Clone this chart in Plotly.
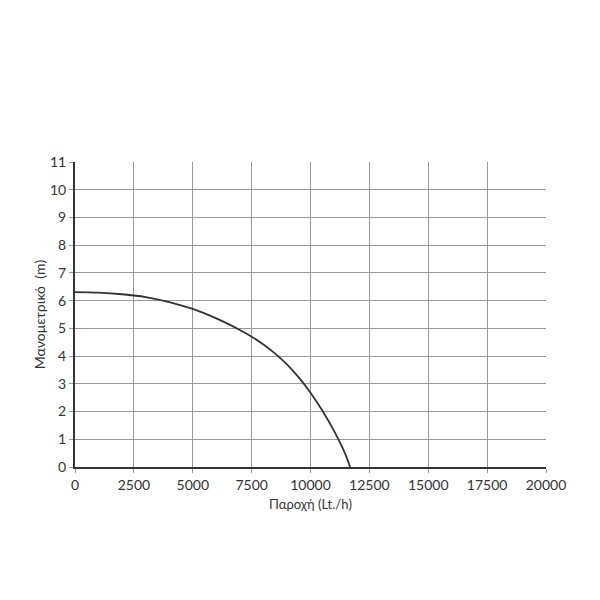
import plotly.graph_objects as go

flow = [0, 1000, 2000, 3000, 4000, 5000, 5500, 6000, 6500, 7000, 7500, 8000,
        8500, 9000, 9500, 10000, 10500, 11000, 11500, 11680]
head = [6.31, 6.29, 6.23, 6.13, 5.95, 5.70, 5.54, 5.36, 5.16, 4.94, 4.70, 4.42,
        4.09, 3.70, 3.23, 2.68, 2.04, 1.30, 0.42, 0.0]

x_ticks = [0, 2500, 5000, 7500, 10000, 12500, 15000, 17500, 20000]
y_ticks = list(range(0, 12))

fig = go.Figure()
fig.add_trace(go.Scatter(x=flow, y=head, mode="lines",
                         line=dict(color="#333333", width=1.8, shape="spline", smoothing=1.0),
                         showlegend=False, hoverinfo="skip"))

font = dict(family="Lato, DejaVu Sans, sans-serif", size=14, color="#333333")
fig.update_layout(
    width=600, height=600,
    margin=dict(l=67, r=62, t=154, b=141, autoexpand=False),
    paper_bgcolor="white", plot_bgcolor="white",
    font=font,
    xaxis=dict(range=[0, 20000], tickvals=x_ticks, ticktext=[str(v) for v in x_ticks],
               showgrid=True, gridcolor="#999999", gridwidth=1,
               showline=True, linecolor="#333333", linewidth=2,
               ticks="outside", ticklen=4, tickcolor="#999999",
               zeroline=False, mirror=False, automargin=False,
               title=dict(text="Παροχή (Lt./h)", font=dict(size=13), standoff=8)),
    yaxis=dict(range=[0, 11], tickvals=y_ticks,
               showgrid=True, gridcolor="#999999", gridwidth=1,
               showline=True, linecolor="#333333", linewidth=2,
               ticks="outside", ticklen=4, tickcolor="#999999",
               zeroline=False, automargin=False,
               title=dict(text="Μανομετρικό  (m)", font=dict(size=14), standoff=1)),
)
fig.write_html("out.html")
